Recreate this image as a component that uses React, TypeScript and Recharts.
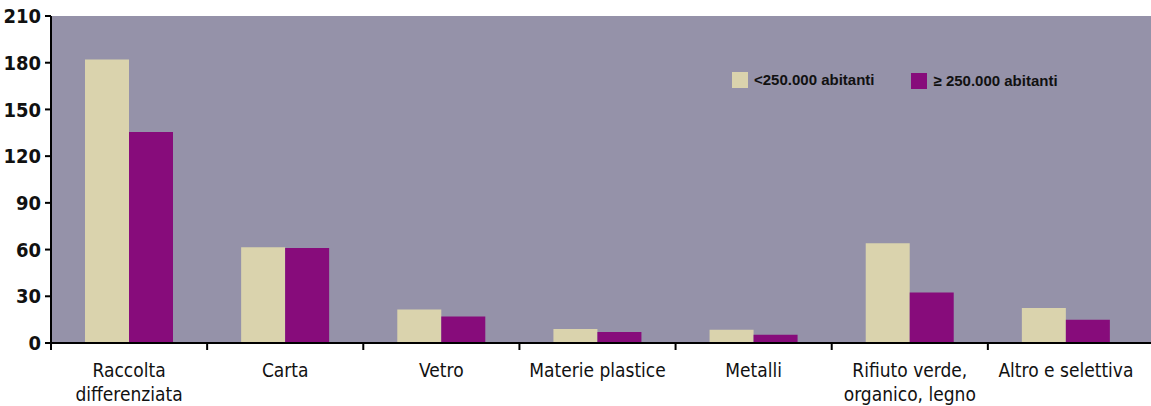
import React from "react";
import { BarChart, Bar, XAxis, YAxis, CartesianGrid } from "recharts";

const categories = [
  "Raccolta\ndifferenziata",
  "Carta",
  "Vetro",
  "Materie plastice",
  "Metalli",
  "Rifiuto verde,\norganico, legno",
  "Altro e selettiva",
];
const smallCities = [182, 61.5, 21.5, 9, 8.5, 64, 22.5];
const bigCities = [135.5, 61, 17, 7, 5.3, 32.5, 15];
const yTicks = [0, 30, 60, 90, 120, 150, 180, 210];

const SERIES_LABELS = ["<250.000 abitanti", "\u2265 250.000 abitanti"];
const LIGHT = "#DAD3AD";
const PURPLE = "#870C7B";
const BG = "#9592A9";

const WIDTH = 1151;
const HEIGHT = 406;
const Y_WIDTH = 51;
const PAD_RIGHT = 7;
const BAND = (WIDTH - Y_WIDTH - PAD_RIGHT) / categories.length;

const data = categories.map((name, i) => ({
  name,
  small: smallCities[i],
  big: bigCities[i],
}));

const FONT = "'Liberation Sans Narrow', 'DejaVu Sans Condensed', Arial, sans-serif";

function CategoryTick(props: any) {
  const { x, y, payload } = props;
  const lines = String(payload.value).split("\n");
  const left = x - BAND / 2;
  return (
    <g>
      <line x1={left} y1={y} x2={left} y2={y + 7} stroke="#000" strokeWidth={2} />
      <text x={x} y={y + 34} textAnchor="middle" fontFamily={FONT} fontSize={19} fill="#111">
        {lines.map((l, i) => (
          <tspan key={i} x={x} dy={i === 0 ? 0 : 24}>
            {l}
          </tspan>
        ))}
      </text>
    </g>
  );
}

function LegendBox() {
  const colors = [LIGHT, PURPLE];
  return (
    <div
      style={{
        position: "absolute",
        top: 70,
        left: 732,
        display: "flex",
        fontFamily: "Arial, 'Liberation Sans', sans-serif",
        fontWeight: 700,
        fontSize: 15,
        color: "#111",
      }}
    >
      {SERIES_LABELS.map((label, i) => (
        <div
          key={label}
          style={{ display: "flex", alignItems: "center", marginRight: i === 0 ? 37 : 0, marginTop: i === 1 ? 2 : 0 }}
        >
          <span style={{ display: "inline-block", width: 16, height: 16, background: colors[i], marginRight: 6 }} />
          <span>{label}</span>
        </div>
      ))}
    </div>
  );
}

export default function App() {
  return (
    <div style={{ position: "relative", width: WIDTH, height: HEIGHT, background: "#fff" }}>
      <style>{"body{margin:0}"}</style>
      <BarChart
        width={WIDTH}
        height={HEIGHT}
        data={data}
        margin={{ top: 16, right: 0, bottom: 0, left: 0 }}
        barGap={0}
        barSize={44}
      >
        <CartesianGrid horizontal={false} vertical={false} fill={BG} stroke="none" />
        <YAxis
          width={Y_WIDTH}
          domain={[0, 210]}
          ticks={yTicks}
          interval={0}
          axisLine={{ stroke: "#000", strokeWidth: 2 }}
          tickLine={{ stroke: "#000", strokeWidth: 2 }}
          tickSize={6}
          tickMargin={4}
          tick={{ fontFamily: FONT, fontSize: 20, fontWeight: 700, fill: "#111" }}
        />
        <XAxis
          dataKey="name"
          height={63}
          interval={0}
          padding={{ left: 0, right: PAD_RIGHT }}
          axisLine={{ stroke: "#000", strokeWidth: 2 }}
          tickLine={false}
          tickSize={0}
          tickMargin={0}
          tick={<CategoryTick />}
        />
        <Bar dataKey="small" fill={LIGHT} isAnimationActive={false} />
        <Bar dataKey="big" fill={PURPLE} isAnimationActive={false} />
      </BarChart>
      <LegendBox />
    </div>
  );
}
